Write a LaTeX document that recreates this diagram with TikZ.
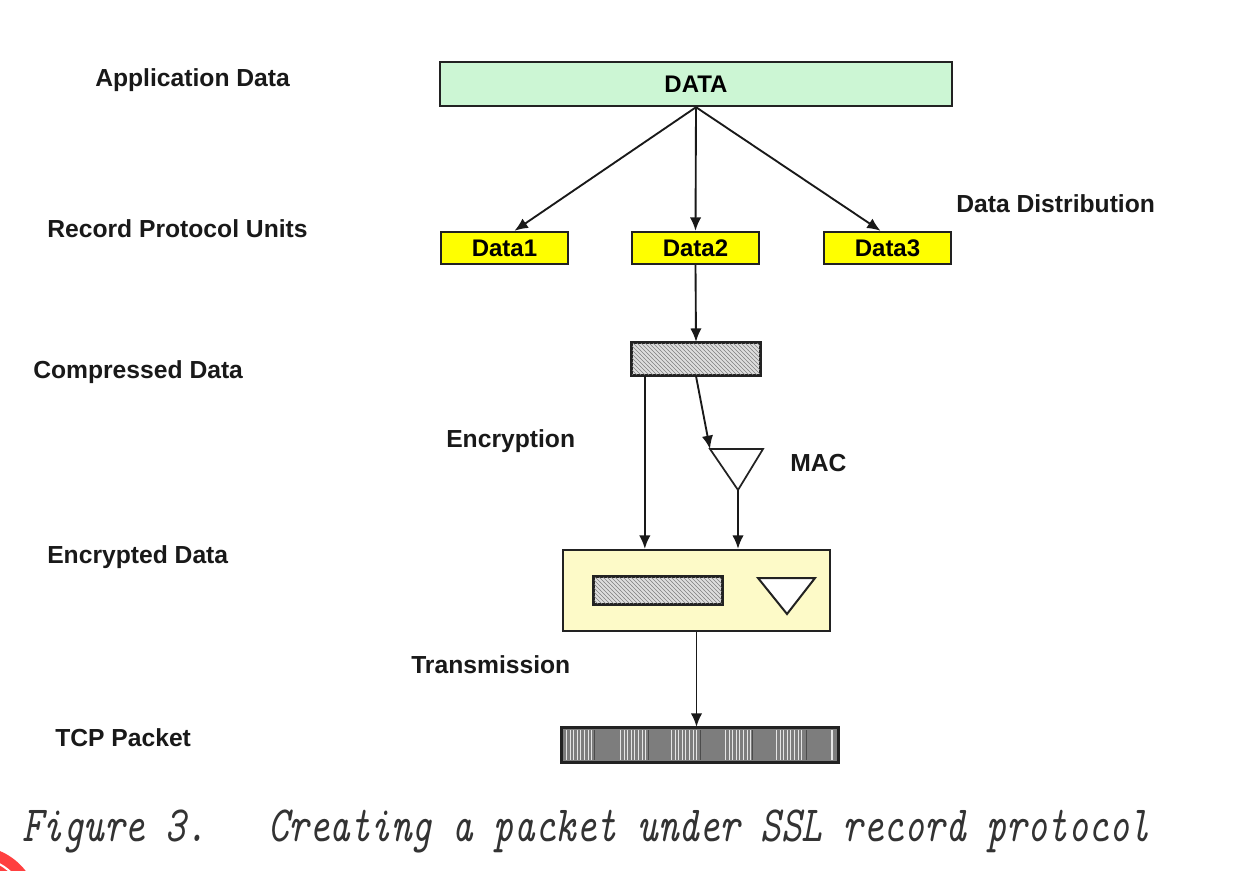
\documentclass[tikz,border=0pt]{standalone}
\usepackage{fontspec}
\setmainfont{Liberation Sans}
\usetikzlibrary{arrows.meta,patterns,calc}
\definecolor{datagreen}{RGB}{204,246,212}
\definecolor{ylw}{RGB}{255,255,0}
\definecolor{encfill}{RGB}{253,250,200}
\definecolor{edge}{RGB}{34,34,34}
\definecolor{hatchbg}{RGB}{222,222,222}
\definecolor{tcpgray}{RGB}{125,125,125}
\begin{document}
\begin{tikzpicture}[x=0.75pt,y=-0.75pt,
  box/.style={draw=edge,line width=1.8pt,inner sep=0pt,font=\fontsize{18}{21}\selectfont\bfseries},
  lbl/.style={anchor=west,inner sep=0pt,font=\fontsize{18.5}{21}\selectfont\bfseries,text=black!90},
  arr/.style={draw=black!90,line width=1.4pt,-{Latex[length=10pt,width=8.5pt]}},
  ln/.style={draw=black,line width=1.4pt}]
\useasboundingbox (0,0) rectangle (1237,870);
\fill[white] (0,0) rectangle (1237,870);
% red mark bottom-left
\begin{scope}
\clip (0,0) rectangle (1237,870);
\fill[red!75!white] (-25,910) circle (64);
\draw[white,line width=1.5pt] (-25,910) circle (52);
\end{scope}
% labels
\node[lbl] (lapp) at (95,80) {Application Data};
\node[lbl] (lrec) at (47,229) {Record Protocol Units};
\node[lbl] (ldist) at (956,204) {Data Distribution};
\node[lbl] (lcomp) at (33,372) {Compressed Data};
\node[lbl] (lencr) at (446,441) {Encryption};
\node[lbl] (lmac) at (790,463) {MAC};
\node[lbl] (lenc) at (47,557) {Encrypted Data};
\node[lbl] (ltrans) at (411,665) {Transmission};
\node[lbl] (ltcp) at (55,738) {TCP Packet};
% boxes
\node[box,fill=datagreen,minimum width=384pt,minimum height=33pt] (data) at (696,84) {DATA};
\node[box,fill=ylw,minimum width=95.25pt,minimum height=24pt] (d1) at (504.5,248) {Data1};
\node[box,fill=ylw,minimum width=95.25pt,minimum height=24pt] (d2) at (695.5,248) {Data2};
\node[box,fill=ylw,minimum width=95.25pt,minimum height=24pt] (d3) at (887.5,248) {Data3};
% compressed
\node[box,fill=hatchbg,minimum width=96pt,minimum height=24pt] (comp) at (696,359) {};
\fill[pattern=north west lines,pattern color=gray] ([xshift=1pt,yshift=-1pt]comp.north west) rectangle ([xshift=-1pt,yshift=1pt]comp.south east);
\draw[edge,line width=1.8pt] (comp.north west) rectangle (comp.south east);
% MAC triangle
\coordinate (macTL) at (710,449);
\coordinate (macTR) at (763,449);
\coordinate (macB) at (738,490);
\draw[edge,line width=1.3pt,line join=miter] (macTL) -- (macTR) -- (macB) -- cycle;
% encrypted box
\node[box,fill=encfill,minimum width=200.25pt,minimum height=60.75pt] (enc) at (696.5,590.5) {};
\node[box,fill=hatchbg,line width=1.5pt,minimum width=96pt,minimum height=20.25pt] (einner) at (658,590.5) {};
\fill[pattern=north west lines,pattern color=gray] ([xshift=1pt,yshift=-1pt]einner.north west) rectangle ([xshift=-1pt,yshift=1pt]einner.south east);
\draw[edge,line width=1.5pt] (einner.north west) rectangle (einner.south east);
\coordinate (eTL) at (758,578);
\coordinate (eTR) at (815,578);
\coordinate (eB) at (787,614);
\draw[edge,line width=1.5pt,fill=white,line join=miter] (eTL) -- (eTR) -- (eB) -- cycle;
% TCP packet
\node[box,fill=tcpgray,minimum width=207pt,minimum height=25.5pt] (tcp) at (700,745) {};
\foreach \s in {566,620,671,725,776}{
  \foreach \d in {0,4,7,11,14,18,22,25}{
    \draw[white!80!gray,line width=0.7pt] (\s+\d,730) -- (\s+\d,760);
  }
}
\foreach \s in {594,648,700,752,806}{
  \draw[black!70,line width=0.7pt] (\s,730) -- (\s,760);
}
\draw[white!80!gray,line width=0.9pt] (832,730) -- (832,760);
\draw[edge,line width=1.8pt] (tcp.north west) rectangle (tcp.south east);
% arrows
\draw[arr] (data.south) -- ($(d1.north)+(10,0)$);
\draw[arr] (data.south) -- (d2.north);
\draw[arr] (data.south) -- ($(d3.north)+(-7,0)$);
\draw[arr] (d2.south) -- (comp.north);
\draw[arr] ([xshift=10.5pt]comp.south west) -- ([xshift=10.5pt]comp.south west |- enc.north);
\draw[arr] (comp.south) -- (macTL);
\draw[arr] (macB) -- (macB |- enc.north);
\draw[arr] (enc.south) -- (enc.south |- tcp.north);
% caption
\node[anchor=base west,inner sep=0pt,text=black!80] (cap) at (22,841)
  {\scalebox{1}[1.3]{\fontsize{29.3}{31}\ttfamily\itshape Figure 3.\ \ \ Creating a packet under SSL record protocol}};
\end{tikzpicture}
\end{document}
